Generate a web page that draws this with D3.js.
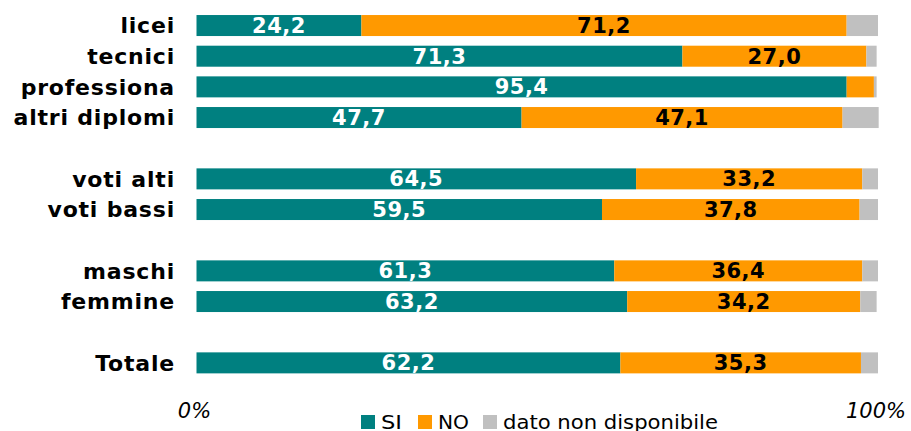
<!DOCTYPE html>
<html>
<head>
<meta charset="utf-8">
<script src="https://cdn.jsdelivr.net/npm/d3@7"></script>
<style>
  body { margin: 0; background: #fff; }
  svg { display: block; }
</style>
</head>
<body>
<svg id="chart" width="911" height="431"></svg>
<script>
// Data (percentages). Empty strings are spacer rows between groups
var categories = ["licei", "tecnici", "professiona", "altri diplomi", "",
    "voti alti", "voti bassi", "", "maschi", "femmine", "", "Totale"];
var siValues = [24.2, 71.3, 95.4, 47.7, null, 64.5, 59.5, null, 61.3, 63.2, null, 62.2];
var noValues = [71.2, 27.0, 4.0, 47.1, null, 33.2, 37.8, null, 36.4, 34.2, null, 35.3];
var ndValues = [4.6, 1.5, 0.4, 5.3, null, 2.3, 2.7, null, 2.3, 2.4, null, 2.5];
var seriesNames = ["SI", "NO", "dato non disponibile"];
var seriesLabels = [true, true, false];
var axisTicks = [0, 100];

var colors = ["#008080", "#FF9900", "#C0C0C0"];
var labelColors = ["#fff", "#000", "#000"];

var svg = d3.select("#chart");

// keys so spacer rows are unique in the band scale
var rowKeys = categories.map(function(c, i) { return i + ":" + c; });

var x = d3.scaleLinear().domain([0, 100]).range([196.5, 878]);
var y = d3.scaleBand().domain(rowKeys).range([10.2, 378.2])
    .paddingInner(0.315).paddingOuter(0.1575);

// Build stacked rows
var rows = [];
categories.forEach(function(c, i) {
    if (siValues[i] === null) return;
    rows.push({key: rowKeys[i], name: c, vals: [siValues[i], noValues[i], ndValues[i]]});
});

var stack = d3.stack().keys([0, 1, 2]).value(function(d, k) { return d.vals[k]; });
var layers = stack(rows);

var g = svg.append("g");

layers.forEach(function(layer, si) {
    g.selectAll(".seg" + si)
        .data(layer)
        .enter().append("rect")
        .attr("x", function(d) { return x(d[0]); })
        .attr("y", function(d) { return y(d.data.key); })
        .attr("width", function(d) { return x(d[1]) - x(d[0]); })
        .attr("height", y.bandwidth())
        .attr("fill", colors[si]);

    if (!seriesLabels[si]) return;
    // small segments have no label
    g.selectAll(".lab" + si)
        .data(layer.filter(function(d) { return d.data.vals[si] >= 10; }))
        .enter().append("text")
        .attr("x", function(d) { return (x(d[0]) + x(d[1])) / 2; })
        .attr("y", function(d) { return y(d.data.key) + y.bandwidth() / 2; })
        .attr("dy", "0.36em")
        .attr("text-anchor", "middle")
        .attr("font-family", "DejaVu Sans, Verdana, sans-serif")
        .attr("font-weight", "bold")
        .attr("font-size", 21)
        .attr("letter-spacing", 0.5)
        .attr("fill", labelColors[si])
        .text(function(d) { return d.data.vals[si].toFixed(1).replace(".", ","); });
});

// Category labels
g.selectAll(".cat")
    .data(rows)
    .enter().append("text")
    .attr("x", 175)
    .attr("y", function(d) { return y(d.key) + y.bandwidth() / 2; })
    .attr("dy", "0.36em")
    .attr("text-anchor", "end")
    .attr("font-family", "DejaVu Sans, Verdana, sans-serif")
    .attr("font-weight", "bold")
    .attr("font-size", 22)
    .attr("letter-spacing", 0.8)
    .attr("fill", "#000")
    .text(function(d) { return d.name; });

// Axis tick labels (only 0% and 100%, no axis line)
svg.selectAll(".tick")
    .data(axisTicks)
    .enter().append("text")
    .attr("x", function(d) { return x(d) - 2; })
    .attr("y", 418)
    .attr("text-anchor", "middle")
    .attr("font-family", "DejaVu Sans, Verdana, sans-serif")
    .attr("font-style", "italic")
    .attr("font-size", 21)
    .attr("fill", "#000")
    .text(function(d) { return d + "%"; });

// Legend
var legendX = [361, 418, 483];
var legendW = [21, 31, 215];
var legend = svg.selectAll(".legend")
    .data(seriesNames)
    .enter().append("g")
    .attr("transform", function(d, i) { return "translate(" + legendX[i] + ",415)"; });

legend.append("rect")
    .attr("width", 14)
    .attr("height", 14)
    .attr("fill", function(d, i) { return colors[i]; });

legend.append("text")
    .attr("x", 20)
    .attr("y", 13.5)
    .attr("font-family", "DejaVu Sans Condensed, DejaVu Sans, sans-serif")
    .attr("font-size", 19)
    .attr("textLength", function(d, i) { return legendW[i]; })
    .attr("lengthAdjust", "spacingAndGlyphs")
    .attr("fill", "#000")
    .text(function(d) { return d; });
</script>
</body>
</html>
